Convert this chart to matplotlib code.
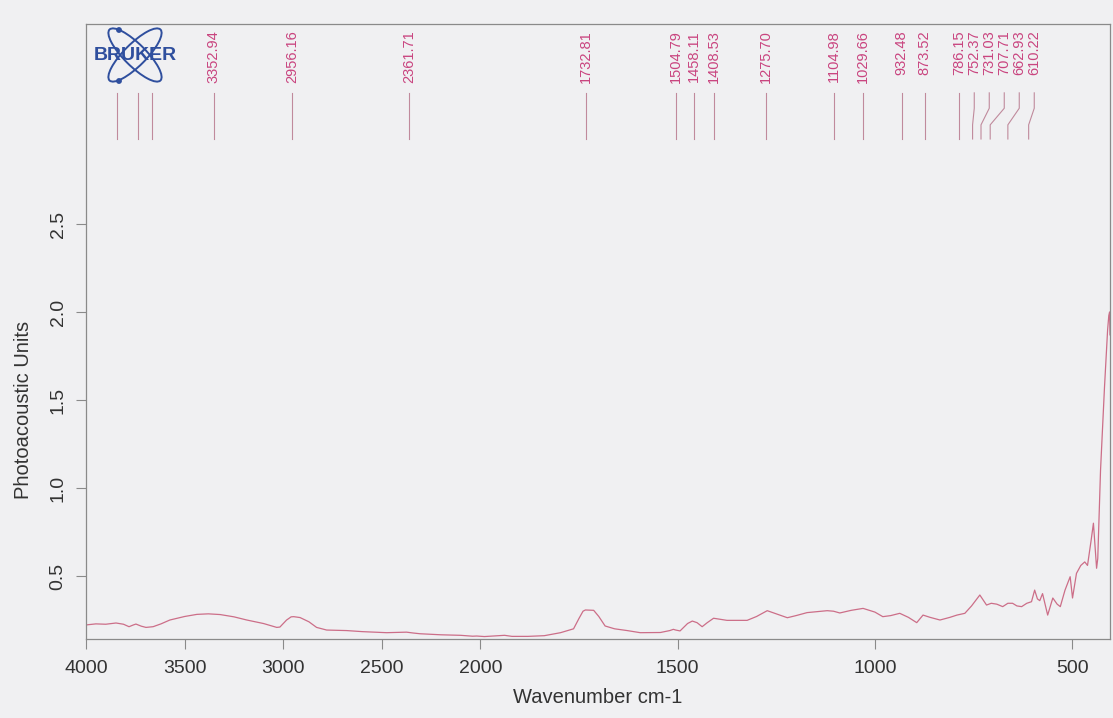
import numpy as np
import matplotlib
matplotlib.use("Agg")
import matplotlib.pyplot as plt
from matplotlib import transforms
from matplotlib.patches import Ellipse, Circle

plt.rcParams['font.family'] = ['Liberation Sans', 'DejaVu Sans']

# spectrum (wavenumber cm-1, photoacoustic units)
wavenumber = [4000, 3950, 3900, 3848, 3810, 3782, 3760, 3747, 3720, 3696, 3660, 3620,
              3575, 3500, 3438, 3380, 3320, 3250, 3185, 3100, 3033, 3017, 2983, 2960,
              2947, 2915, 2870, 2831, 2780, 2679, 2600, 2476, 2375, 2340, 2307, 2200,
              2100, 2040, 2019, 1990, 1960, 1939, 1920, 1880, 1838, 1797, 1764, 1750,
              1740, 1734, 1713, 1700, 1684, 1660, 1628, 1595, 1544, 1520, 1511, 1505,
              1494, 1475, 1463, 1451, 1438, 1425, 1409, 1375, 1324, 1300, 1273, 1250,
              1222, 1200, 1172, 1121, 1105, 1089, 1060, 1030, 1000, 980, 960, 937,
              915, 894, 878, 860, 835, 810, 792, 772, 755, 745, 734, 717, 705, 691,
              676, 663, 651, 640, 628, 615, 603, 595, 588, 582, 575, 562, 549, 538,
              530, 518, 505, 499, 489, 478, 468, 461, 452, 446, 438, 435, 428, 418,
              410, 407, 405, 404]
absorbance = [0.222, 0.228, 0.226, 0.233, 0.226, 0.212, 0.222, 0.227, 0.215, 0.208, 0.212, 0.228,
              0.250, 0.270, 0.282, 0.285, 0.281, 0.268, 0.250, 0.230, 0.208, 0.210, 0.250, 0.268,
              0.269, 0.264, 0.240, 0.208, 0.193, 0.190, 0.184, 0.178, 0.181, 0.176, 0.172, 0.166,
              0.163, 0.158, 0.159, 0.156, 0.160, 0.163, 0.157, 0.157, 0.161, 0.178, 0.200, 0.260,
              0.300, 0.307, 0.305, 0.270, 0.216, 0.200, 0.190, 0.178, 0.179, 0.190, 0.197, 0.193,
              0.188, 0.230, 0.244, 0.235, 0.212, 0.235, 0.260, 0.248, 0.248, 0.270, 0.303, 0.285,
              0.263, 0.275, 0.292, 0.303, 0.300, 0.290, 0.305, 0.316, 0.295, 0.269, 0.275, 0.288,
              0.265, 0.235, 0.278, 0.265, 0.250, 0.265, 0.278, 0.288, 0.330, 0.360, 0.392, 0.335,
              0.345, 0.340, 0.326, 0.345, 0.345, 0.330, 0.326, 0.345, 0.354, 0.420, 0.370, 0.360,
              0.400, 0.278, 0.375, 0.340, 0.326, 0.420, 0.496, 0.375, 0.515, 0.560, 0.580, 0.560,
              0.700, 0.800, 0.544, 0.600, 1.100, 1.570, 1.900, 1.980, 2.000, 1.870]

peaks = [3352.94, 2956.16, 2361.71, 1732.81, 1504.79, 1458.11, 1408.53, 1275.70,
         1104.98, 1029.66, 932.48, 873.52, 786.15, 752.37, 731.03, 707.71, 662.93, 610.22]
hidden_peaks = [3843, 3736, 3665]   # labels sit under the logo

xticks = [4000, 3500, 3000, 2500, 2000, 1500, 1000, 500]
yticks = [0.5, 1.0, 1.5, 2.0, 2.5]

bg = '#f0f0f2'
pink = '#c9447f'
line_col = '#cc6e88'
peak_line = '#c08a9c'
grey = '#8a8a8a'


# OPUS style axis: region above 2000 cm-1 compressed by half
def fwd(x):
    x = np.asarray(x, float)
    return np.where(x > 2000, 2000 + (x - 2000) / 2, x)


def inv(y):
    y = np.asarray(y, float)
    return np.where(y > 2000, 2000 + (y - 2000) * 2, y)


fig = plt.figure(figsize=(11.13, 7.18), dpi=100, facecolor=bg)
ax = fig.add_axes([0.0773, 0.110, 0.920, 0.8566], facecolor=bg)
ax.set_xscale('function', functions=(fwd, inv))
ax.plot(wavenumber, absorbance, color=line_col, lw=0.9)
ax.set_xlim(4000, 404)
ax.set_ylim(0.142, 3.636)
ax.set_xticks(xticks)
ax.set_xticklabels([str(t) for t in xticks])
ax.set_yticks(yticks)
ax.set_yticklabels(['%.1f' % t for t in yticks])
ax.tick_params(axis='both', direction='out', length=7, width=0.8, color=grey,
               labelsize=14, labelcolor='#333333')
ax.tick_params(axis='x', pad=8)
ax.tick_params(axis='y', pad=7, labelrotation=90)
for lbl in ax.get_yticklabels():
    lbl.set_va('center')
for sp in ax.spines.values():
    sp.set_color(grey)
    sp.set_linewidth(0.9)

ax.set_xlabel('Wavenumber cm-1', fontsize=14.5, color='#333333')
ax.xaxis.set_label_coords(0.5, -0.080)
ax.set_ylabel('Photoacoustic Units', fontsize=14.5, color='#333333')
ax.yaxis.set_label_coords(-0.0518, 0.372)

# peak picking labels, spread apart where they crowd
trans = transforms.blended_transform_factory(ax.transData, ax.transAxes)
px_per_unit = 1024 / (fwd(4000) - fwd(404))
gap = 15 / px_per_unit
label_f = []
for p in peaks:
    f = float(fwd(p))
    if label_f and f > label_f[-1] - gap:
        f = label_f[-1] - gap
    label_f.append(f)

y_top, y_k1, y_k2, y_bot = 0.888, 0.863, 0.836, 0.813
for p, lf in zip(peaks, label_f):
    lx = float(inv(lf))
    ax.text(lx, 0.990, '%.2f' % p, transform=trans, rotation=90, ha='center',
            va='top', fontsize=10.5, color=pink)
    ax.plot([lx, lx, p, p], [y_top, y_k1, y_k2, y_bot], transform=trans,
            color=peak_line, lw=0.8)
for p in hidden_peaks:
    ax.plot([p, p], [y_top, y_bot], transform=trans, color=peak_line, lw=0.8)

# Bruker logo
lax = fig.add_axes([92 / 1113, 1 - 88 / 718, 86 / 1113, 66 / 718])
lax.set_xlim(0, 86)
lax.set_ylim(0, 66)
lax.axis('off')
blue = '#2f4f9e'
lax.add_patch(Ellipse((43, 33), 72, 22, angle=45, fill=False, ec=blue, lw=1.4))
lax.add_patch(Ellipse((43, 33), 72, 22, angle=-45, fill=False, ec=blue, lw=1.4))
lax.add_patch(Circle((27, 58), 2.2, color=blue))
lax.add_patch(Circle((27, 7), 2.2, color=blue))
lax.text(43, 33, 'BRUKER', ha='center', va='center', fontsize=14, fontweight='bold',
         color=blue)

fig.savefig('out.png', dpi=100, facecolor=bg)
